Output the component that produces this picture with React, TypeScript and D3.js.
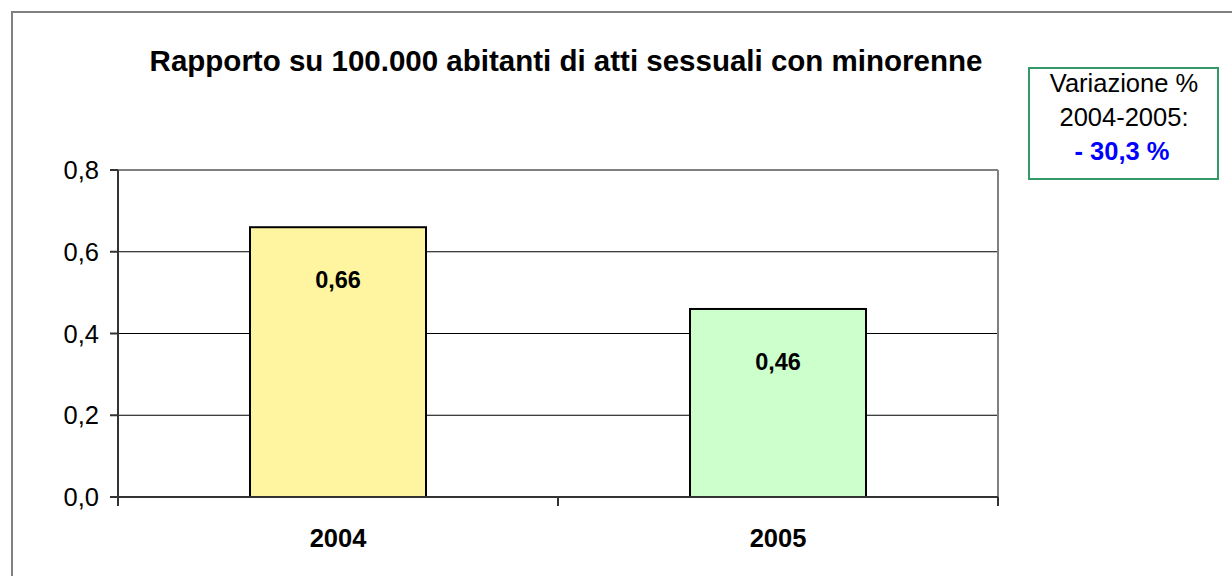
import React from 'react';
import * as d3 from 'd3';

const categories = ['2004', '2005'];
const values = [0.66, 0.46];
const barColors = ['#fff5a0', '#ccffcc'];
const yTicks = [0, 0.2, 0.4, 0.6, 0.8];
const title = 'Rapporto su 100.000 abitanti di atti sessuali con minorenne';
const noteLines = ['Variazione %', '2004-2005:'];
const noteValue = '- 30,3 %';

const W = 1232;
const H = 576;
const plot = { left: 118, right: 998, top: 170, bottom: 497 };
const font = '"Liberation Sans", Arial, sans-serif';

const fmt = (v: number) => d3.format('.1f')(v).replace('.', ',');
const fmt2 = (v: number) => d3.format('.2f')(v).replace('.', ',');

export default function App() {
  const x = d3
    .scaleBand<string>()
    .domain(categories)
    .range([plot.left, plot.right])
    .paddingInner(0.6)
    .paddingOuter(0.3);
  const y = d3.scaleLinear().domain([0, 0.8]).range([plot.bottom, plot.top]);
  const step = x.step();

  return (
    <svg
      width={W}
      height={H}
      style={{ position: 'absolute', left: 0, top: 0, background: '#fff' }}
      fontFamily={font}
    >
      {/* outer chart border, runs off the right and bottom edge */}
      <rect x={12} y={12} width={W + 20} height={H + 20} fill="none" stroke="#808080" strokeWidth={2} />

      <text x={566} y={71} textAnchor="middle" fontSize={29.5} fontWeight="bold" fill="#000">
        {title}
      </text>

      {/* gridlines */}
      {yTicks.slice(1).map(t => (
        <line key={t} x1={plot.left} x2={plot.right} y1={y(t)} y2={y(t)} stroke="#000" strokeWidth={1} />
      ))}
      {/* plot area border top/right */}
      <line x1={plot.left} x2={plot.right} y1={plot.top} y2={plot.top} stroke="#808080" strokeWidth={2} />
      <line x1={plot.right} x2={plot.right} y1={plot.top} y2={plot.bottom} stroke="#808080" strokeWidth={2} />

      {/* bars */}
      {categories.map((c, i) => (
        <g key={c}>
          <rect
            x={x(c)}
            y={y(values[i])}
            width={x.bandwidth()}
            height={y(0) - y(values[i])}
            fill={barColors[i]}
            stroke="#000"
            strokeWidth={2}
          />
          <text
            x={(x(c) as number) + x.bandwidth() / 2}
            y={y(values[i]) + 61}
            textAnchor="middle"
            fontSize={23.5}
            fontWeight="bold"
            fill="#000"
          >
            {fmt2(values[i])}
          </text>
          <text
            x={(x(c) as number) + x.bandwidth() / 2}
            y={547}
            textAnchor="middle"
            fontSize={25.5}
            fontWeight="bold"
            fill="#000"
          >
            {c}
          </text>
        </g>
      ))}

      {/* y axis */}
      <line x1={plot.left} x2={plot.left} y1={plot.top} y2={plot.bottom + 8} stroke="#333" strokeWidth={2} />
      {yTicks.map(t => (
        <g key={t}>
          <line x1={plot.left - 8} x2={plot.left} y1={y(t)} y2={y(t)} stroke="#333" strokeWidth={2} />
          <text x={99} y={y(t) + 9} textAnchor="end" fontSize={25.5} fill="#000">
            {fmt(t)}
          </text>
        </g>
      ))}

      {/* x axis */}
      <line x1={plot.left} x2={plot.right} y1={plot.bottom} y2={plot.bottom} stroke="#333" strokeWidth={2} />
      {d3.range(categories.length + 1).map(i => (
        <line
          key={i}
          x1={plot.left + i * step}
          x2={plot.left + i * step}
          y1={plot.bottom}
          y2={plot.bottom + 9}
          stroke="#333"
          strokeWidth={2}
        />
      ))}

      {/* note box */}
      <rect x={1029} y={68} width={189} height={111} fill="#fff" stroke="#339966" strokeWidth={2} />
      {noteLines.map((l, i) => (
        <text key={l} x={1124} y={92 + i * 34} textAnchor="middle" fontSize={25.5} fill="#000">
          {l}
        </text>
      ))}
      <text x={1122} y={160} textAnchor="middle" fontSize={25.5} fontWeight="bold" fill="#0000ff">
        {noteValue}
      </text>
    </svg>
  );
}
